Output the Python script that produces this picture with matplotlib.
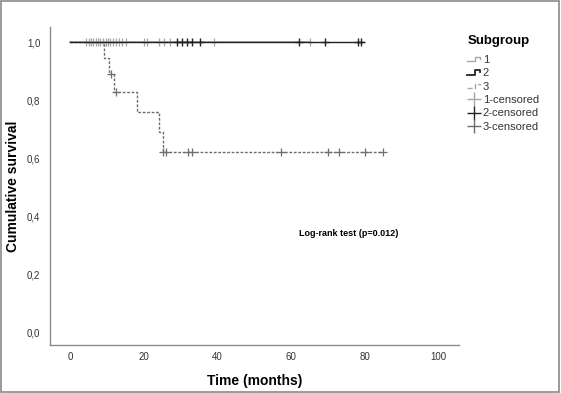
import numpy as np
import matplotlib
matplotlib.use("Agg")
import matplotlib.pyplot as plt
from matplotlib.lines import Line2D
from matplotlib.legend_handler import HandlerLine2D

plt.rcParams['font.family'] = ['Liberation Sans', 'DejaVu Sans']

# ---- data ----
# subgroup 1 (grey solid): no events, censored times
g1_end = 65.2
g1_cens = [4.3, 5.1, 5.6, 6.3, 6.9, 7.4, 8.1, 9.0, 9.7, 10.2, 10.9, 11.6, 12.3,
           13.2, 14.1, 15.2, 20.1, 20.9, 24.0, 25.5, 27.1, 39.0, 65.2]
# subgroup 2 (black solid): no events
g2_end = 79.4
g2_cens = [28.9, 30.3, 31.6, 33.1, 35.2, 62.1, 69.1, 78.1, 79.0]
# subgroup 3 (dotted): step survival
g3_times = [0, 9.2, 10.4, 11.9, 18.2, 24.2, 25.3]
g3_surv = [1.0, 0.945, 0.890, 0.828, 0.760, 0.690, 0.621]
g3_end = 85.0
g3_cens = [11.1, 12.3, 25.3, 26.0, 32.0, 33.0, 57.1, 70.0, 73.0, 80.0, 85.0]

xticks = [0, 20, 40, 60, 80, 100]
yticks = [0.0, 0.2, 0.4, 0.6, 0.8, 1.0]

c1 = '#a6a6a6'
c2 = '#222222'
c3 = '#6e6e6e'


def step_at(t, times, surv):
    idx = np.searchsorted(times, t, side='right') - 1
    return np.array(surv)[idx]


class StepHandler(HandlerLine2D):
    # draws the little step icon SPSS uses in the legend
    def create_artists(self, legend, orig_handle, xdescent, ydescent,
                       width, height, fontsize, trans):
        x0 = -xdescent
        xs = [x0, x0 + width * 0.55, x0 + width * 0.55, x0 + width * 0.9, x0 + width * 0.9]
        y0 = -ydescent + height * 0.2
        y1 = -ydescent + height * 0.8
        ys = [y0, y0, y1, y1, y0 + height * 0.35]
        ln = Line2D(xs, ys, color=orig_handle.get_color(),
                    linestyle=orig_handle.get_linestyle(),
                    linewidth=orig_handle.get_linewidth())
        ln.set_transform(trans)
        return [ln]


fig = plt.figure(figsize=(5.61, 3.93), dpi=100)
ax = fig.add_axes([0.0891, 0.122, 0.729, 0.809])

# curves
ax.plot([0, g1_end], [1.0, 1.0], color=c1, lw=1.2, zorder=2)
ax.plot([0, g2_end], [1.0, 1.0], color=c2, lw=1.0, zorder=3)
ax.step(list(g3_times) + [g3_end], list(g3_surv) + [g3_surv[-1]], where='post',
        color=c3, lw=1.0, linestyle=(0, (2, 1.2)), zorder=2)

# censor marks
ax.plot(g1_cens, [1.0] * len(g1_cens), linestyle='none', marker='+',
        color=c1, ms=5.5, mew=0.9, zorder=2)
ax.plot(g2_cens, [1.0] * len(g2_cens), linestyle='none', marker='+',
        color=c2, ms=5.5, mew=1.0, zorder=4)
ax.plot(g3_cens, step_at(np.array(g3_cens), g3_times, g3_surv), linestyle='none',
        marker='+', color=c3, ms=6, mew=0.9, zorder=3)

ax.text(75.5, 0.341, 'Log-rank test (p=0.012)', fontsize=6.5, fontweight='bold',
        ha='center', va='center')

ax.set_xlim(-5.5, 105.5)
ax.set_ylim(-0.045, 1.052)
ax.set_xticks(xticks)
ax.set_xticklabels([str(v) for v in xticks])
ax.set_yticks(yticks)
ax.set_yticklabels([f'{v:.1f}'.replace('.', ',') for v in yticks])
ax.tick_params(length=0, labelsize=7, colors='#333333')
ax.tick_params(axis='x', pad=5)
ax.tick_params(axis='y', pad=7)
for s in ['top', 'right']:
    ax.spines[s].set_visible(False)
for s in ['left', 'bottom']:
    ax.spines[s].set_color('#8a8a8a')
    ax.spines[s].set_linewidth(1.0)

ax.set_xlabel('Time (months)', fontsize=10, fontweight='bold')
ax.set_ylabel('Cumulative survival', fontsize=10, fontweight='bold')
ax.xaxis.set_label_coords(0.5, -0.09)
ax.yaxis.set_label_coords(-0.073, 0.5)

handles = [
    Line2D([], [], color=c1, lw=1.0),
    Line2D([], [], color=c2, lw=1.3),
    Line2D([], [], color=c1, lw=1.0, linestyle=(0, (1.5, 1))),
    Line2D([], [], color=c1, lw=0, marker='+', ms=10, mew=1.0),
    Line2D([], [], color=c2, lw=0, marker='+', ms=10, mew=1.0),
    Line2D([], [], color=c3, lw=0, marker='+', ms=10, mew=1.0),
]
labels = ['1', '2', '3', '1-censored', '2-censored', '3-censored']
hmap = {h: StepHandler() for h in handles[:3]}
leg = fig.legend(handles, labels, loc='upper left', bbox_to_anchor=(0.815, 0.937),
                 title='Subgroup', frameon=False, fontsize=8, title_fontsize=9.5,
                 handler_map=hmap, handlelength=1.3, handletextpad=0.1,
                 labelspacing=0.3, handleheight=0.6)
leg._legend_box.align = 'left'
leg._legend_box.sep = 6
for t in leg.get_texts():
    t.set_color('#333333')
leg.get_title().set_fontweight('semibold')

# grey border round the whole picture
fig.patches.append(plt.Rectangle((0.002, 0.003), 0.994, 0.994, transform=fig.transFigure,
                                 fill=False, edgecolor='#8a8a8a', lw=1.2))

fig.savefig('out.png', dpi=100)
